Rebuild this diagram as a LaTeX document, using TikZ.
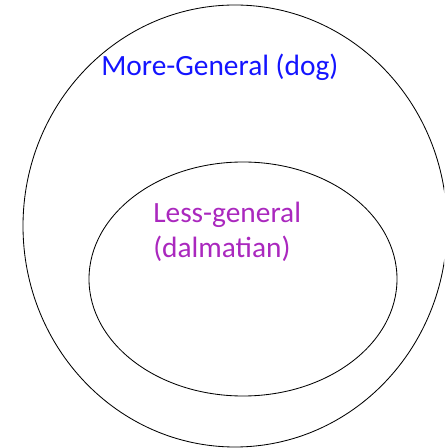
\documentclass[tikz,border=0pt]{standalone}
\usepackage{fontspec}
\setmainfont{Carlito}
\usepackage{tikz}
\usetikzlibrary{shapes}
\definecolor{generalblue}{RGB}{20,20,255}
\definecolor{lesspurple}{RGB}{170,40,190}
\tikzstyle{set} = [draw, ellipse, line width=0.6pt, inner sep=0pt]
\tikzstyle{setname} = [font=\fontsize{20.9}{25.5}\selectfont, inner sep=0pt, align=left]

\begin{document}
\begin{tikzpicture}
    \clip (0,0) rectangle (11.1,11.2);
    % First we draw the two sets
    \node[set, minimum width=10.6cm, minimum height=11.05cm] (dog) at (5.875,5.55) {};
    \node[set, minimum width=7.7cm, minimum height=5.85cm] (dalmatian) at (6.075,4.225) {};

    % Then the names of the sets
    \node[setname, text=generalblue, anchor=base west] (dogname) at (2.525,9.3) {More-General (dog)};
    \node[setname, text=lesspurple, anchor=base west] (dalmatianname) at (3.825,4.75) {Less-general\\(dalmatian)};
\end{tikzpicture}
\end{document}
